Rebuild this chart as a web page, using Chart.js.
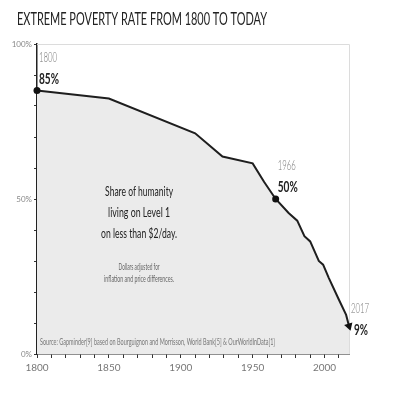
<!DOCTYPE html>
<html>
<head>
<meta charset="utf-8">
<script src="https://cdn.jsdelivr.net/npm/chart.js@4"></script>
<style>
  html, body { margin: 0; padding: 0; background: #fff; }
</style>
</head>
<body>
<canvas id="povertyChart" width="399" height="400"></canvas>
<script>
// data
const years = [1800, 1850, 1910, 1929, 1950, 1958, 1966, 1975, 1981, 1986, 1990, 1996, 1999, 2003, 2010, 2015, 2017];
const povertyRate = [85, 82.4, 71.2, 63.7, 61.5, 55.5, 50, 45.5, 43, 38, 36.3, 30, 28.8, 24.5, 17.5, 12.6, 9];
const xTickLabels = [1800, 1850, 1900, 1950, 2000];
const yTickLabels = [0, 50, 100];
const highlightYears = [1800, 1966, 2017];

const titleText = "EXTREME POVERTY RATE FROM 1800 TO TODAY";
const boxLines = ["Share of humanity", "living on Level 1", "on less than $2/day."];
const noteLines = ["Dollars adjusted for", "inflation and price differences."];
const sourceText = "Source: Gapminder[9] based on Bourguignon and Morrisson, World Bank[5] & OurWorldInData[1]";

const FONT = "Lato, 'Open Sans', sans-serif";

const points = years.map(function (y, i) { return { x: y, y: povertyRate[i] }; });
const lastIdx = years.length - 1;

// draw text squeezed to a given width (the original type is very narrow)
function fitText(ctx, text, x, y, font, color, width, align) {
    ctx.save();
    ctx.font = font;
    ctx.fillStyle = color;
    ctx.textBaseline = "alphabetic";
    ctx.textAlign = "left";
    let w = ctx.measureText(text).width;
    let s = width / w;
    let left = align === "center" ? x - width / 2 : x;
    ctx.translate(left, y);
    ctx.scale(s, 1);
    ctx.fillText(text, 0, 0);
    ctx.restore();
}

const framePlugin = {
    id: "frame",
    beforeDatasetsDraw(chart) {
        const a = chart.chartArea;
        const ctx = chart.ctx;
        ctx.save();
        ctx.strokeStyle = "#dcdcdc";
        ctx.lineWidth = 1;
        ctx.beginPath();
        ctx.moveTo(a.left, a.top + 0.5);
        ctx.lineTo(a.right + 0.5, a.top + 0.5);
        ctx.lineTo(a.right + 0.5, a.bottom);
        ctx.stroke();
        ctx.restore();
    }
};

const labelsPlugin = {
    id: "labels",
    afterDatasetsDraw(chart) {
        const ctx = chart.ctx;
        const xs = chart.scales.x;
        const ys = chart.scales.y;

        // title
        fitText(ctx, titleText, 17, 25, "18px " + FONT, "#222", 250, "left");

        // highlighted points
        highlightYears.forEach(function (yr) {
            let i = years.indexOf(yr);
            let px = xs.getPixelForValue(yr);
            let py = ys.getPixelForValue(povertyRate[i]);
            let pct = Math.round(povertyRate[i]) + "%";
            if (yr === 2017) {
                fitText(ctx, String(yr), px + 2, py - 13, "300 14px " + FONT, "#777", 18, "left");
                fitText(ctx, pct, px + 5, py + 9, "bold 16px " + FONT, "#222", 14, "left");
            } else {
                fitText(ctx, String(yr), px + 2, py - 29, "300 14px " + FONT, "#777", 18, "left");
                fitText(ctx, pct, px + 2, py - 7, "bold 16px " + FONT, "#222", 20, "left");
            }
        });

        // text in the middle of the area
        let cx = xs.getPixelForValue(1871);
        let boxWidths = [68, 62, 76];
        let boxLevels = [51, 44.3, 37.5];
        boxLines.forEach(function (t, i) {
            fitText(ctx, t, cx, ys.getPixelForValue(boxLevels[i]), "14px " + FONT, "#222", boxWidths[i], "center");
        });
        let noteWidths = [41, 70];
        let noteLevels = [27, 23.2];
        noteLines.forEach(function (t, i) {
            fitText(ctx, t, cx, ys.getPixelForValue(noteLevels[i]), "9px " + FONT, "#666", noteWidths[i], "center");
        });

        fitText(ctx, sourceText, xs.left + 3, ys.getPixelForValue(2.9), "9px " + FONT, "#777", 235, "left");
    }
};

const ctx = document.getElementById("povertyChart");

new Chart(ctx, {
    type: "line",
    data: {
        datasets: [{
            label: "Extreme poverty rate",
            data: points,
            borderColor: "#1e1e1e",
            borderWidth: 2,
            backgroundColor: "#ebebeb",
            fill: "origin",
            tension: 0,
            clip: false,
            pointRadius: years.map(function (y, i) {
                if (i === lastIdx) return 5;
                return highlightYears.includes(y) ? 3.5 : 0;
            }),
            pointStyle: years.map(function (y, i) { return i === lastIdx ? "triangle" : "circle"; }),
            pointRotation: years.map(function (y, i) { return i === lastIdx ? 162 : 0; }),
            pointBackgroundColor: "#111",
            pointBorderColor: "#111",
            pointBorderWidth: 0,
            pointHoverRadius: 0
        }]
    },
    options: {
        responsive: false,
        animation: false,
        devicePixelRatio: 1,
        layout: {
            padding: { left: 0, right: 50, top: 44, bottom: 16 }
        },
        plugins: {
            legend: { display: false },
            tooltip: { enabled: false },
            title: { display: false }
        },
        scales: {
            x: {
                type: "linear",
                min: 1800,
                max: 2017,
                border: { color: "#222", width: 1.5 },
                grid: { drawOnChartArea: false, tickLength: 4, color: "#333" },
                ticks: {
                    stepSize: 10,
                    includeBounds: false,
                    autoSkip: false,
                    maxRotation: 0,
                    padding: 4,
                    color: "#777",
                    font: { family: FONT, size: 10 },
                    callback: function (v) { return xTickLabels.includes(v) ? String(v) : ""; }
                },
                afterFit: function (scale) { scale.height = 30; }
            },
            y: {
                min: 0,
                max: 100,
                border: { color: "#222", width: 1.5 },
                grid: { drawOnChartArea: false, tickLength: 3, color: "#333" },
                ticks: {
                    stepSize: 10,
                    autoSkip: false,
                    padding: 2,
                    color: "#888",
                    font: { family: FONT, size: 8 },
                    callback: function (v) { return yTickLabels.includes(v) ? v + "%" : ""; }
                },
                afterFit: function (scale) { scale.width = 37; }
            }
        }
    },
    plugins: [framePlugin, labelsPlugin]
});
</script>
</body>
</html>
